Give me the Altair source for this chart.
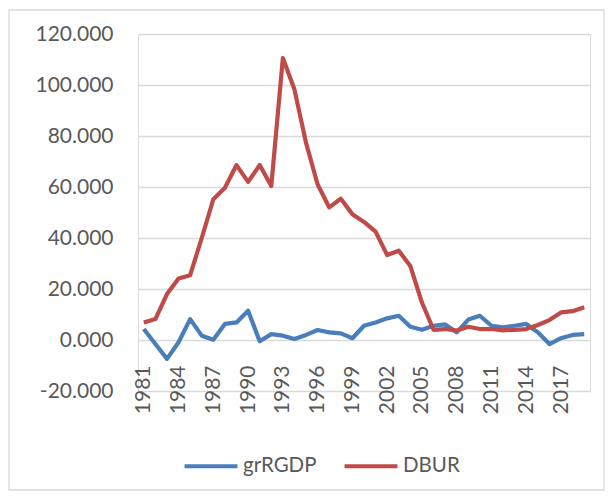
import altair as alt
import pandas as pd

years = list(range(1981, 2020))
grRGDP = [4.3, -1.6, -7.4, -0.9, 8.2, 1.7, 0.1, 6.3, 6.9, 11.5,
          -0.5, 2.3, 1.7, 0.4, 2.0, 3.9, 3.0, 2.6, 0.7, 5.6,
          6.9, 8.5, 9.5, 5.2, 4.0, 5.6, 6.1, 3.0, 8.0, 9.5,
          5.6, 5.0, 5.6, 6.3, 3.0, -1.6, 0.7, 2.0, 2.3]
DBUR = [6.9, 8.2, 18.0, 24.1, 25.4, 40.0, 55.2, 59.7, 68.6, 62.0,
        68.6, 60.4, 110.6, 98.2, 77.3, 61.0, 52.0, 55.4, 49.3, 46.3,
        42.5, 33.3, 35.0, 29.0, 14.7, 4.0, 4.3, 3.7, 5.2, 4.3,
        4.3, 3.8, 4.0, 4.3, 5.9, 7.8, 10.8, 11.3, 12.8]
series_names = ["grRGDP", "DBUR"]
series_colors = ["#4A7EBB", "#BE4B48"]
x_ticks = list(range(1981, 2018, 3))
y_ticks = [-20, 0, 20, 40, 60, 80, 100, 120]

rows = []
for name, vals in zip(series_names, [grRGDP, DBUR]):
    for i, (yr, v) in enumerate(zip(years, vals)):
        rows.append({"year": yr, "value": v, "series": name, "ord": i})
df = pd.DataFrame(rows)

FONT = "Lato"
TXT = "#595959"

lines = alt.Chart(df).mark_line(strokeWidth=4.2, strokeJoin="round").encode(
    x=alt.X("year:Q",
            scale=alt.Scale(domain=[1980.5, 2019.5], nice=False, zero=False),
            axis=alt.Axis(values=x_ticks, format="d", labelAngle=270, offset=-51,
                          domain=False, ticks=False, grid=False, labelPadding=25,
                          labelFontSize=21, labelColor=TXT, labelFont=FONT,
                          title=None, labelFlush=False)),
    y=alt.Y("value:Q",
            scale=alt.Scale(domain=[-20, 120], nice=False),
            axis=alt.Axis(values=y_ticks,
                          labelExpr="(datum.value < 0 ? '-' : '') + format(abs(datum.value), '.3f')",
                          domain=False, ticks=False,
                          grid=True, gridColor="#D9D9D9", gridWidth=1.3,
                          labelPadding=25, labelFontSize=21, labelColor=TXT,
                          labelFont=FONT, title=None)),
    color=alt.Color("series:N",
                    scale=alt.Scale(domain=series_names, range=series_colors),
                    legend=alt.Legend(orient="none", legendX=44, legendY=403,
                                      direction="horizontal", title=None,
                                      symbolType="stroke", symbolSize=2800,
                                      symbolStrokeWidth=4.2, labelFontSize=20.5,
                                      labelFont=FONT, labelColor=TXT,
                                      columnPadding=19, labelOffset=3)),
    order="ord:Q",
)

border = alt.Chart(pd.DataFrame({"a": [0]})).mark_rect(
    fill=None, stroke="#D9D9D9", strokeWidth=1.3
).encode(
    x=alt.value(-129), x2=alt.value(466), y=alt.value(-24), y2=alt.value(456)
)

chart = alt.layer(border, lines).properties(
    width=452, height=357,
    autosize=alt.AutoSizeParams(type="none"),
    padding={"left": 130, "top": 26, "right": 15, "bottom": 101},
).configure_view(stroke=None).configure(background="white")

chart.save("out.html", embed_options={"renderer": "svg", "actions": False})
